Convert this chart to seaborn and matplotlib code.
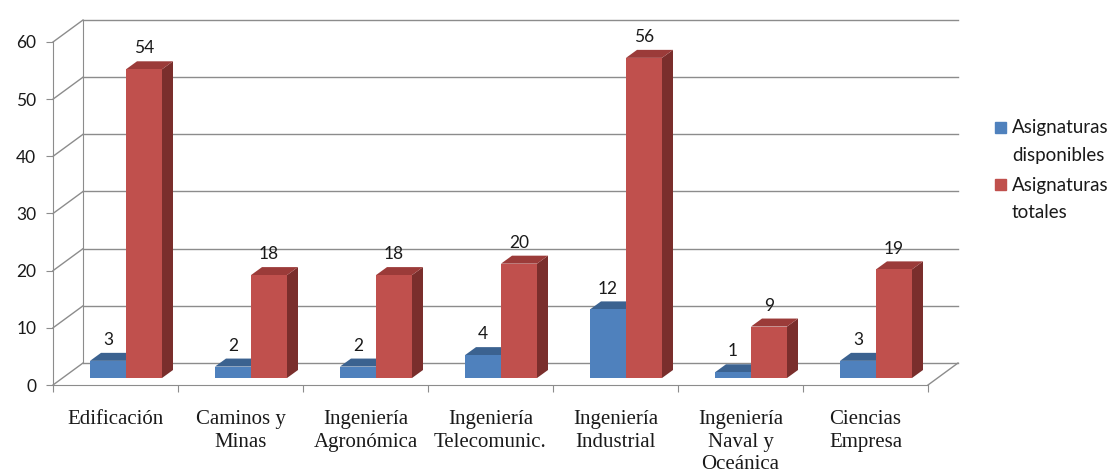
import matplotlib
matplotlib.use("Agg")
import matplotlib.pyplot as plt
import seaborn as sns
import pandas as pd
from matplotlib.patches import Polygon, Rectangle

# ---- data ----
categorias = ["Edificación", "Caminos y\nMinas", "Ingeniería\nAgronómica",
              "Ingeniería\nTelecomunic.", "Ingeniería\nIndustrial",
              "Ingeniería\nNaval y\nOceánica", "Ciencias\nEmpresa"]
series = ["Asignaturas disponibles", "Asignaturas totales"]
disponibles = [3, 2, 2, 4, 12, 1, 3]
totales = [54, 18, 18, 20, 56, 9, 19]
yticks = [0, 10, 20, 30, 40, 50, 60]

# ---- style ----
BLUE, RED = "#4f81bd", "#c0504d"
BLUE_TOP = "#3b6290"
RED_TOP, RED_SIDE = "#9b3b39", "#7a2e2c"
GRID = "#8c8c8c"
TXT = "#1a1a1a"

plt.rcParams["font.family"] = ["Lato", "DejaVu Sans"]

W, H = 1118, 473
fig = plt.figure(figsize=(W / 100, H / 100), dpi=100)
fig.patch.set_facecolor("white")

AW, AH = 875, 343  # px size of each plane


def pos(left, bottom):
    return [left / W, bottom / H, AW / W, AH / H]


ax_back = fig.add_axes(pos(83, 110))
ax_front = fig.add_axes(pos(53, 88))
ax_bar = fig.add_axes(pos(63.5, 95))

n = len(categorias)
for a in (ax_back, ax_front, ax_bar):
    a.set_xlim(-0.5, n - 0.5)
    a.set_ylim(0, 60)
    a.patch.set_visible(False)

# ---- back wall ----
ax_back.set_yticks(yticks)
ax_back.yaxis.grid(True, color=GRID, lw=1)
ax_back.tick_params(left=False, labelleft=False, bottom=False, labelbottom=False)
for s in ("top", "right", "bottom"):
    ax_back.spines[s].set_visible(False)
ax_back.spines["left"].set_color(GRID)
for gl in ax_back.get_ygridlines():
    gl.set_clip_on(False)

# ---- front plane ----
for s in ("top", "right"):
    ax_front.spines[s].set_visible(False)
for s in ("left", "bottom"):
    ax_front.spines[s].set_color(GRID)
ax_front.set_yticks(yticks)
ax_front.set_yticklabels([str(v) for v in yticks], fontsize=12.5, color=TXT)
ax_front.tick_params(axis="y", direction="out", length=5, color=GRID, pad=7)
ax_front.set_xticks([i - 0.5 for i in range(n + 1)])
ax_front.set_xticklabels([])
ax_front.tick_params(axis="x", which="major", direction="out", length=5, color=GRID)
ax_front.set_xticks(list(range(n)), minor=True)
ax_front.set_xticklabels(categorias, minor=True, fontsize=15, color=TXT,
                         family=["Liberation Serif", "DejaVu Serif"], linespacing=1.25)
ax_front.tick_params(axis="x", which="minor", length=0, pad=18)

# depth connectors (front plane -> back wall)
DX = 30 / (AW / n)
DY = 22 / (AH / 60)
for v in yticks:
    ax_front.plot([-0.5, -0.5 + DX], [v, v + DY], color=GRID, lw=1, clip_on=False)
ax_front.plot([n - 0.5, n - 0.5 + DX], [0, DY], color=GRID, lw=1, clip_on=False)

# ---- bars ----
df = pd.DataFrame({
    "categoria": categorias * 2,
    "serie": [series[0]] * n + [series[1]] * n,
    "valor": disponibles + totales,
})
sns.barplot(data=df, x="categoria", y="valor", hue="serie", palette=[BLUE, RED],
            width=0.576, saturation=1, linewidth=0, ax=ax_bar, legend=False)
ax_bar.set_xlim(-0.5, n - 0.5)
ax_bar.set_ylim(0, 60)
ax_bar.axis("off")

dx = 11 / (AW / n)
dy = 8 / (AH / 60)
for p in list(ax_bar.patches):
    x0, w, h = p.get_x(), p.get_width(), p.get_height()
    x1 = x0 + w
    is_blue = matplotlib.colors.to_hex(p.get_facecolor()) == BLUE
    top_c = BLUE_TOP if is_blue else RED_TOP
    side_c = "#2f4f75" if is_blue else RED_SIDE
    ax_bar.add_patch(Polygon([(x1, 0), (x1, h), (x1 + dx, h + dy), (x1 + dx, dy)],
                             closed=True, color=side_c, lw=0, zorder=0.8, clip_on=False))
    ax_bar.add_patch(Polygon([(x0, h), (x1, h), (x1 + dx, h + dy), (x0 + dx, h + dy)],
                             closed=True, color=top_c, lw=0, zorder=0.9, clip_on=False))
    ax_bar.annotate(str(int(round(h))), (x0 + w / 2, h), xytext=(0, 15),
                    textcoords="offset points", ha="center", va="center",
                    fontsize=12.5, color=TXT, annotation_clip=False)
for p in ax_bar.patches:
    if not isinstance(p, Polygon):
        p.set_zorder(1)

# ---- legend ----
leg_items = [(BLUE, ["Asignaturas", "disponibles"], 128),
             (RED, ["Asignaturas", "totales"], 185)]
for col, lines, yc in leg_items:
    fig.patches.append(Rectangle((995 / W, 1 - (yc + 5.5) / H), 11 / W, 11 / H,
                                 transform=fig.transFigure, color=col))
    for k, t in enumerate(lines):
        fig.text(1012 / W, 1 - (yc + 27 * k) / H, t, va="center", ha="left",
                 fontsize=13.5, color=TXT)

fig.savefig("out.png", dpi=100)
